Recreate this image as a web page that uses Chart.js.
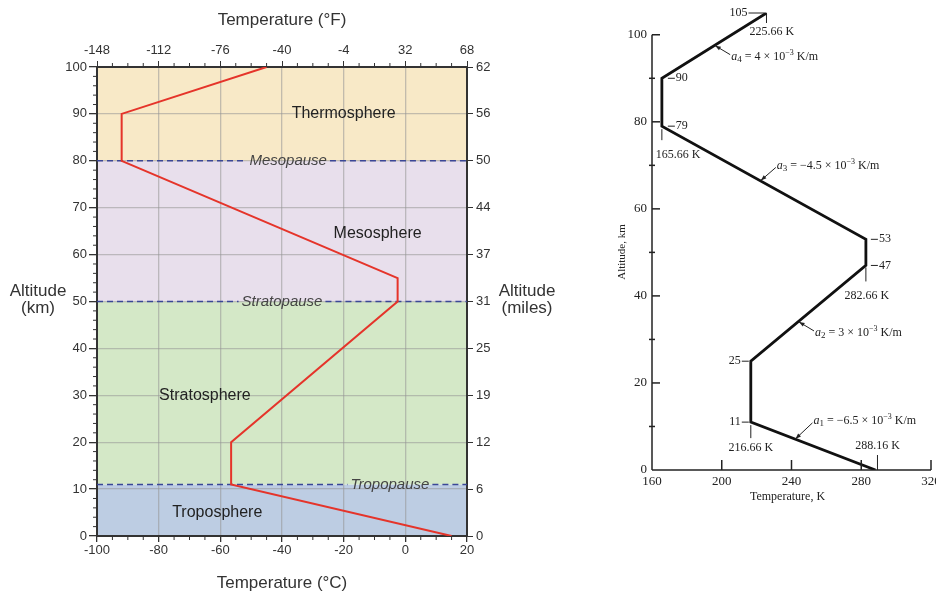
<!DOCTYPE html>
<html>
<head>
<meta charset="utf-8">
<script src="https://cdn.jsdelivr.net/npm/chart.js@4.4.0/dist/chart.umd.min.js"></script>
<style>
    body { margin: 0; background: #fff; width: 936px; height: 596px; overflow: hidden; position: relative; }
    #leftChart { position: absolute; left: 0; top: 0; }
    #rightChart { position: absolute; left: 580px; top: 0; }
</style>
</head>
<body>
<canvas id="leftChart" width="560" height="596"></canvas>
<canvas id="rightChart" width="356" height="596"></canvas>
<script>
// Left: temperature profile in °C
const profileTempC = [15, -56.5, -56.5, -2.5, -2.5, -92, -92, -45];
const profileAltKm = [0, 11, 20, 50, 55, 80, 90, 100];
const fahrenheitLabels = ['-148', '-112', '-76', '-40', '-4', '32', '68'];
const milesLabels = ['0', '6', '12', '19', '25', '31', '37', '44', '50', '56', '62'];
const layerNames = ['Troposphere', 'Stratosphere', 'Mesosphere', 'Thermosphere'];
const layerBottomKm = [0, 11, 50, 80];
const layerTopKm = [11, 50, 80, 100];
const pauseNames = ['Tropopause', 'Stratopause', 'Mesopause'];
const pauseAltKm = [11, 50, 80];

// Right: standard atmosphere in K
const stdTempK = [288.16, 216.66, 216.66, 282.66, 282.66, 165.66, 165.66, 225.66];
const stdAltKm = [0, 11, 25, 47, 53, 79, 90, 105];
const kelvinTicks = [160, 200, 240, 280, 320];
const altTicksKm = [0, 20, 40, 60, 80, 100];
const lapseIndex = ['1', '2', '3', '4'];
const lapseRates = ['−6.5', '3', '−4.5', '4'];

const sans = "'Liberation Sans', Arial, sans-serif";
const serif = "'Liberation Serif', 'Times New Roman', serif";

const bandColors = ['#bdcde3', '#d4e8c7', '#e8dfec', '#f8e9c7'];

function noPad(s) {
    s.paddingLeft = 0; s.paddingRight = 0; s.paddingTop = 0; s.paddingBottom = 0;
}

const atmospherePlugin = {
    id: 'atmosphere',
    beforeDraw(chart) {
        const { ctx, chartArea: a, scales: { y } } = chart;
        ctx.save();
        layerNames.forEach((n, i) => {
            const top = y.getPixelForValue(layerTopKm[i]);
            const bot = y.getPixelForValue(layerBottomKm[i]);
            ctx.fillStyle = bandColors[i];
            ctx.fillRect(a.left, top, a.right - a.left, bot - top);
        });
        ctx.restore();
    },
    beforeDatasetsDraw(chart) {
        const { ctx, chartArea: a, scales: { x, y } } = chart;
        ctx.save();
        // boundary lines with their names
        const pauseCenters = [-5, -40, -38];
        ctx.font = 'italic 15px ' + sans;
        ctx.textAlign = 'center';
        ctx.textBaseline = 'middle';
        pauseNames.forEach((name, i) => {
            const py = y.getPixelForValue(pauseAltKm[i]);
            const cx = x.getPixelForValue(pauseCenters[i]);
            const w = ctx.measureText(name).width;
            ctx.strokeStyle = '#3a4796';
            ctx.lineWidth = 1.5;
            ctx.setLineDash([6, 4]);
            ctx.beginPath();
            ctx.moveTo(a.left, py); ctx.lineTo(cx - w / 2 - 3, py);
            ctx.moveTo(cx + w / 2 + 3, py); ctx.lineTo(a.right, py);
            ctx.stroke();
            ctx.setLineDash([]);
            ctx.fillStyle = '#444';
            ctx.fillText(name, cx, py);
        });
        // layer names
        const layerPos = [[-61, 5], [-65, 30], [-9, 64.5], [-20, 90]];
        ctx.font = '16px ' + sans;
        ctx.fillStyle = '#222';
        layerNames.forEach((name, i) => {
            ctx.fillText(name, x.getPixelForValue(layerPos[i][0]), y.getPixelForValue(layerPos[i][1]));
        });
        ctx.restore();
    },
    afterDraw(chart) {
        const { ctx, chartArea: a, scales: { x, y } } = chart;
        ctx.save();
        ctx.strokeStyle = '#333';
        ctx.lineWidth = 1;
        ctx.beginPath();
        for (let v = 2; v < 100; v += 2) {
            if (v % 10 === 0) continue;
            const py = y.getPixelForValue(v);
            ctx.moveTo(a.left - 4, py); ctx.lineTo(a.left, py);
        }
        for (let v = -95; v < 20; v += 5) {
            if (v % 20 === 0) continue;
            const px = x.getPixelForValue(v);
            ctx.moveTo(px, a.top - 4); ctx.lineTo(px, a.top);
            ctx.moveTo(px, a.bottom); ctx.lineTo(px, a.bottom + 4);
        }
        ctx.stroke();

        // axis titles
        const mid = (a.left + a.right) / 2;
        ctx.fillStyle = '#333';
        ctx.textAlign = 'center';
        ctx.textBaseline = 'middle';
        ctx.font = '17px ' + sans;
        ctx.fillText('Temperature (°F)', mid, 20);
        ctx.fillText('Temperature (°C)', mid, 583);
        ctx.fillText('Altitude', 38, 291);
        ctx.fillText('(km)', 38, 308);
        ctx.fillText('Altitude', 527, 291);
        ctx.fillText('(miles)', 527, 308);
        ctx.restore();
    }
};

const tickFont = { family: sans, size: 13 };
const frame = { color: '#333', width: 2 };

new Chart(document.getElementById('leftChart'), {
    type: 'scatter',
    data: {
        datasets: [{
            data: profileTempC.map((t, i) => ({ x: t, y: profileAltKm[i] })),
            showLine: true,
            borderColor: '#e5342a',
            borderWidth: 2,
            pointRadius: 0
        }]
    },
    options: {
        responsive: false,
        animation: false,
        layout: { padding: 0 },
        plugins: { legend: { display: false }, tooltip: { enabled: false } },
        scales: {
            x: {
                type: 'linear', position: 'bottom', min: -100, max: 20,
                ticks: { stepSize: 20, color: '#333', font: tickFont, padding: 1, maxRotation: 0 },
                grid: { color: 'rgba(150,150,150,0.55)', lineWidth: 1.3, tickLength: 6, tickColor: '#333' },
                border: frame,
                afterFit: s => { s.height = 60; noPad(s); }
            },
            xTop: {
                type: 'linear', position: 'top', min: -100, max: 20,
                ticks: { stepSize: 20, color: '#333', font: tickFont, padding: 3, maxRotation: 0,
                    callback: (v, i) => fahrenheitLabels[i] },
                grid: { drawOnChartArea: false, tickLength: 6, tickColor: '#333' },
                border: frame,
                afterFit: s => { s.height = 67; noPad(s); }
            },
            y: {
                type: 'linear', position: 'left', min: 0, max: 100,
                ticks: { stepSize: 10, color: '#333', font: tickFont, padding: 2 },
                grid: { color: 'rgba(150,150,150,0.55)', lineWidth: 1.3, tickLength: 8, tickColor: '#333' },
                border: frame,
                afterFit: s => { s.width = 97; noPad(s); }
            },
            yRight: {
                type: 'linear', position: 'right', min: 0, max: 100,
                ticks: { stepSize: 10, color: '#333', font: tickFont, padding: 3,
                    callback: (v, i) => milesLabels[i] },
                grid: { drawOnChartArea: false, tickLength: 6, tickColor: '#333' },
                border: frame,
                afterFit: s => { s.width = 93; noPad(s); }
            }
        }
    },
    plugins: [atmospherePlugin]
});

// ---------- right chart ----------
function drawLapse(ctx, x, y, sub, rate) {
    const parts = [
        ['a', 'italic 12px ' + serif, 0],
        [sub, '9px ' + serif, 3],
        [' = ' + rate + ' × 10', '12px ' + serif, 0],
        ['−3', '8px ' + serif, -4],
        [' K/m', '12px ' + serif, 0]
    ];
    let cx = x;
    ctx.textAlign = 'left';
    ctx.textBaseline = 'middle';
    parts.forEach(([t, f, dy]) => {
        ctx.font = f;
        ctx.fillText(t, cx, y + dy);
        cx += ctx.measureText(t).width;
    });
}

function arrow(ctx, x0, y0, x1, y1) {
    ctx.beginPath();
    ctx.moveTo(x0, y0); ctx.lineTo(x1, y1);
    ctx.stroke();
    const ang = Math.atan2(y1 - y0, x1 - x0);
    ctx.beginPath();
    ctx.moveTo(x1, y1);
    ctx.lineTo(x1 - 6 * Math.cos(ang - 0.35), y1 - 6 * Math.sin(ang - 0.35));
    ctx.lineTo(x1 - 6 * Math.cos(ang + 0.35), y1 - 6 * Math.sin(ang + 0.35));
    ctx.closePath();
    ctx.fill();
}

const standardPlugin = {
    id: 'standard',
    afterDraw(chart) {
        const { ctx, scales: { x, y } } = chart;
        const X = v => x.getPixelForValue(v);
        const Y = v => y.getPixelForValue(v);
        const seg = (a, b, c, d) => { ctx.beginPath(); ctx.moveTo(a, b); ctx.lineTo(c, d); ctx.stroke(); };
        ctx.save();
        ctx.strokeStyle = '#222';
        ctx.fillStyle = '#222';
        ctx.lineWidth = 1.5;

        // axes
        const x0 = X(kelvinTicks[0]);
        const y0 = Y(0);
        seg(x0, y0, x0, Y(100));
        seg(x0, y0, X(kelvinTicks[kelvinTicks.length - 1]), y0);
        altTicksKm.slice(1).forEach(v => seg(x0, Y(v), x0 + 8, Y(v)));
        [10, 30, 50, 70, 90].forEach(v => seg(x0 - 3, Y(v), x0 + 3, Y(v)));
        kelvinTicks.slice(1).forEach(v => seg(X(v), y0, X(v), y0 - 10));

        // point labels
        ctx.lineWidth = 1;
        ctx.font = '12px ' + serif;
        ctx.textBaseline = 'middle';
        const pt = i => [X(stdTempK[i]), Y(stdAltKm[i])];

        let [px, py] = pt(7);
        seg(px - 18, py, px, py);
        seg(px, py, px, py + 10);
        ctx.textAlign = 'right';
        ctx.fillText('105', px - 19, py);
        ctx.textAlign = 'left';
        ctx.fillText('225.66 K', px - 17, py + 19);

        [6, 5].forEach(i => {
            [px, py] = pt(i);
            seg(px + 6, py, px + 13, py);
            ctx.fillText(String(stdAltKm[i]), px + 14, py);
        });
        [px, py] = pt(5);
        seg(px, py + 3, px, py + 14);
        ctx.fillText('165.66 K', px - 6, py + 29);

        [4, 3].forEach(i => {
            [px, py] = pt(i);
            seg(px + 5, py, px + 12, py);
            ctx.fillText(String(stdAltKm[i]), px + 13, py);
        });
        [px, py] = pt(3);
        seg(px, py + 2, px, py + 16);
        ctx.textAlign = 'center';
        ctx.fillText('282.66 K', px + 1, py + 30);

        ctx.textAlign = 'right';
        [2, 1].forEach(i => {
            [px, py] = pt(i);
            seg(px - 9, py, px - 2, py);
            ctx.fillText(String(stdAltKm[i]), px - 10, py);
        });
        [px, py] = pt(1);
        seg(px, py + 3, px, py + 16);
        ctx.textAlign = 'center';
        ctx.fillText('216.66 K', px, py + 26);

        [px, py] = pt(0);
        seg(px + 2, py - 15, px + 2, py);
        ctx.fillText('288.16 K', px + 2, py - 24);

        // lapse-rate labels with arrows
        const lapseSeg = [[0, 1, 0.65], [2, 3, 0.41], [5, 4, 0.48], [6, 7, 0.5]];
        const lapseOff = [[19, -18], [17, 11], [17, -15], [17, 11]];
        lapseSeg.forEach(([a, b, t], k) => {
            const [ax, ay] = pt(a);
            const [bx, by] = pt(b);
            const tx = ax + (bx - ax) * t;
            const ty = ay + (by - ay) * t;
            const lx = tx + lapseOff[k][0];
            const ly = ty + lapseOff[k][1];
            arrow(ctx, lx - 1, ly - Math.sign(lapseOff[k][1]) * 2, tx + 1, ty);
            drawLapse(ctx, lx, ly, lapseIndex[k], lapseRates[k]);
        });

        // axis titles
        ctx.textAlign = 'center';
        ctx.font = '12px ' + serif;
        ctx.fillText('Temperature, K', (X(160) + X(320)) / 2 - 4, 497);
        ctx.translate(42, 252);
        ctx.rotate(-Math.PI / 2);
        ctx.font = '11px ' + serif;
        ctx.fillText('Altitude, km', 0, 0);
        ctx.restore();
    }
};

new Chart(document.getElementById('rightChart'), {
    type: 'scatter',
    data: {
        datasets: [{
            data: stdTempK.map((t, i) => ({ x: t, y: stdAltKm[i] })),
            showLine: true,
            borderColor: '#111',
            borderWidth: 2.8,
            pointRadius: 0
        }]
    },
    options: {
        responsive: false,
        animation: false,
        layout: { padding: { top: 13, right: 5, left: 0, bottom: 0 } },
        plugins: { legend: { display: false }, tooltip: { enabled: false } },
        scales: {
            x: {
                type: 'linear', min: 160, max: 320,
                afterBuildTicks: s => { s.ticks = kelvinTicks.map(v => ({ value: v })); },
                ticks: { color: '#222', font: { family: serif, size: 13 }, padding: 4, maxRotation: 0 },
                grid: { display: false, drawTicks: false },
                border: { display: false },
                afterFit: s => { s.height = 126; noPad(s); }
            },
            y: {
                type: 'linear', min: 0, max: 105,
                afterBuildTicks: s => { s.ticks = altTicksKm.map(v => ({ value: v })); },
                ticks: { color: '#222', font: { family: serif, size: 13 }, padding: 5 },
                grid: { display: false, drawTicks: false },
                border: { display: false },
                afterFit: s => { s.width = 72; noPad(s); }
            }
        }
    },
    plugins: [standardPlugin]
});
</script>
</body>
</html>
